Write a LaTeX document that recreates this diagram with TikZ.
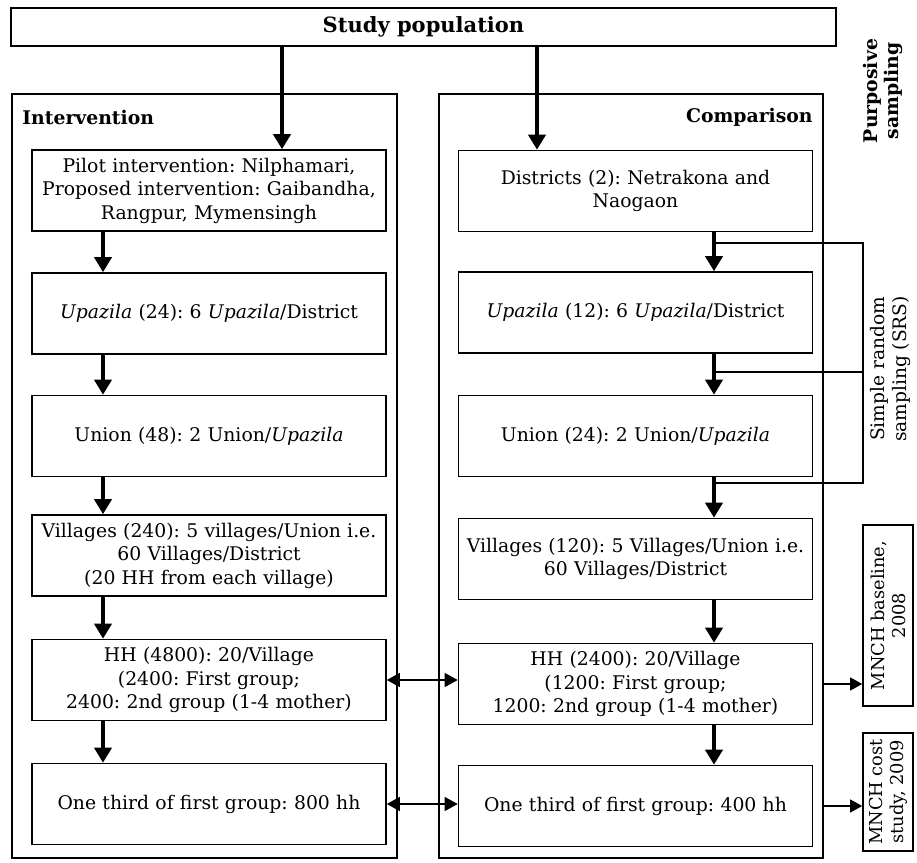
\documentclass[tikz,border=0pt]{standalone}
\usepackage{fontspec}
\setmainfont{DejaVu Serif}
\usetikzlibrary{arrows.meta}
\frenchspacing

\begin{document}
\begin{tikzpicture}[x=0.5pt, y=-0.5pt,
  every node/.style={font=\fontsize{9.4}{11.75}\selectfont, align=center, inner sep=0pt},
  stage/.style={draw, line width=0.8pt, minimum width=177pt, minimum height=40.5pt, text width=175pt},
  panel/.style={draw, minimum width=192.5pt, minimum height=382pt},
  head/.style={font=\fontsize{9.4}{10.5}\selectfont\bfseries},
  side/.style={rotate=90, font=\fontsize{9.3}{11}\selectfont},
  outbox/.style={side, draw, line width=0.8pt, minimum height=25pt, font=\fontsize{8.9}{10.5}\selectfont},
  flow/.style={line width=2pt, -{Triangle[length=7.5pt, width=8.5pt]}},
  link/.style={line width=0.7pt, {Triangle[length=6.5pt, width=7pt]}-{Triangle[length=6.5pt, width=7pt]}},
  tip/.style={line width=0.6pt, -{Triangle[length=6pt, width=6.5pt]}},
  srs/.style={line width=0.6pt}]
  \useasboundingbox (0,0) rectangle (917,863);

  % top box and the two arms
  \node[draw, line width=1.25pt, minimum width=412.5pt, minimum height=19pt, font=\fontsize{10.5}{12}\selectfont\bfseries] (pop) at (423.5,27) {Study population};
  \node[panel, line width=1.1pt] (intv) at (204.5,476) {};
  \node[panel, line width=0.8pt, minimum width=192pt] (cmp) at (631,476) {};
  \node[head, anchor=west] (intvlab) at (22,117) {Intervention};
  \node[head, anchor=east] (cmplab) at (813,117) {Comparison};
  \node[head, rotate=90] (purp) at (883,91) {Purposive\\sampling};

  % intervention side
  \node[stage] (L1) at (209,190.5) {Pilot intervention: Nilphamari,\\Proposed intervention: Gaibandha,\\Rangpur, Mymensingh};
  \node[stage] (L2) at (209,313.5) {\textit{Upazila} (24): 6 \textit{Upazila}/District};
  \node[stage] (L3) at (209,436) {Union (48): 2 Union/\textit{Upazila}};
  \node[stage] (L4) at (209,555.5) {Villages (240): 5 villages/Union i.e.\\60 Villages/District\\(20 HH from each village)};
  \node[stage] (L5) at (209,680) {HH (4800): 20/Village\\(2400: First group;\\2400: 2nd group (1-4 mother)};
  \node[stage] (L6) at (209,804) {One third of first group: 800 hh};

  % comparison side
  \node[stage] (R1) at (635.5,191) {Districts (2): Netrakona and\\Naogaon};
  \node[stage] (R2) at (635.5,312.5) {\textit{Upazila} (12): 6 \textit{Upazila}/District};
  \node[stage] (R3) at (635.5,436) {Union (24): 2 Union/\textit{Upazila}};
  \node[stage] (R4) at (635.5,559) {Villages (120): 5 Villages/Union i.e.\\60 Villages/District};
  \node[stage] (R5) at (635.5,684) {HH (2400): 20/Village\\(1200: First group;\\1200: 2nd group (1-4 mother)};
  \node[stage] (R6) at (635.5,806) {One third of first group: 400 hh};

  % outputs
  \node[outbox, minimum width=90.5pt] (base) at (888,615.5) {MNCH baseline,\\2008};
  \node[outbox, minimum width=59pt] (cost) at (888,792) {MNCH cost\\study, 2009};
  \node[side] (srslab) at (890,369) {Simple random\\sampling (SRS)};

  \coordinate (ax) at (282,0);
  \coordinate (bx) at (537,0);
  \coordinate (lx) at (103,0);
  \coordinate (rx) at (714,0);
  \coordinate (s1) at (863,243);
  \coordinate (s2) at (863,372);
  \coordinate (s3) at (863,483);

  \draw[flow] (pop.south -| ax) -- (L1.north -| ax);
  \draw[flow] (pop.south -| bx) -- (R1.north -| bx);
  \foreach \a/\b in {L1/L2, L2/L3, L3/L4, L4/L5, L5/L6}
    \draw[flow] (\a.south -| lx) -- (\b.north -| lx);
  \foreach \a/\b in {R1/R2, R2/R3, R3/R4, R4/R5, R5/R6}
    \draw[flow] (\a.south -| rx) -- (\b.north -| rx);

  \draw[srs] (s1 -| rx) -- (s1) -- (s3) -- (s3 -| rx);
  \draw[srs] (s2 -| rx) -- (s2);

  \draw[link] (L5.east) -- (L5.east -| R5.west);
  \draw[link] (L6.east) -- (L6.east -| R6.west);
  \draw[tip] (R5 -| cmp.east) -- (R5 -| base.north);
  \draw[tip] (R6 -| cmp.east) -- (R6 -| cost.north);
\end{tikzpicture}
\end{document}
